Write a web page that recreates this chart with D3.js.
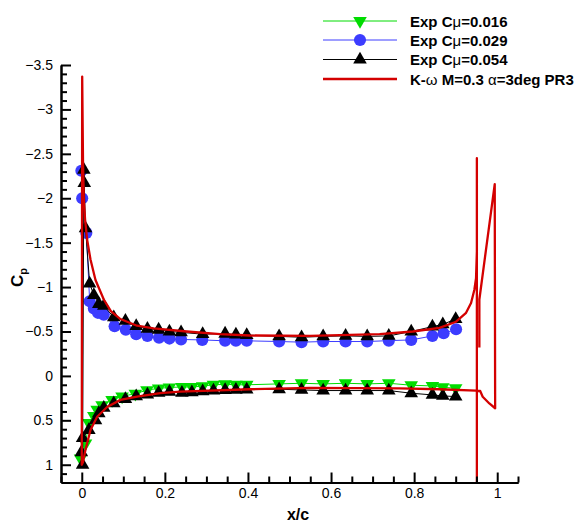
<!DOCTYPE html>
<html>
<head>
<meta charset="utf-8">
<script src="https://cdn.jsdelivr.net/npm/d3@7"></script>
<style>
  body { margin: 0; background: #fff; }
  text { font-family: "Liberation Sans", Arial, sans-serif; }
</style>
</head>
<body>
<div id="wrapper"></div>
<script>
// CFD curve K-omega, ordered along the surface
const cfdX = [0.951, 0.951, 0.951, 0.949, 0.945, 0.937, 0.925, 0.901, 0.861, 0.797, 0.717, 0.549, 0.405, 0.333, 0.253, 0.173, 0.133, 0.093, 0.070, 0.053, 0.033, 0.021, 0.013, 0.008, 0.005, 0.003, 0.001,
    0.000, 0.003, 0.009, 0.021, 0.037, 0.061, 0.093, 0.133, 0.189, 0.237, 0.405, 0.55, 0.765, 0.861, 0.949, 0.959, 0.965, 0.981, 0.995, 0.994, 0.957, 0.957]
const cfdCp = [1.35, -2.45, -1.4, -1.1, -0.97, -0.82, -0.71, -0.61, -0.54, -0.5, -0.47, -0.45, -0.455, -0.47, -0.5, -0.535, -0.565, -0.64, -0.73, -0.86, -1.08, -1.31, -1.53, -1.76, -1.98, -2.4, -3.37,
    1.0, 0.97, 0.83, 0.61, 0.46, 0.35, 0.27, 0.233, 0.195, 0.177, 0.15, 0.135, 0.14, 0.15, 0.165, 0.17, 0.234, 0.31, 0.364, -2.16, -0.86, -0.32]

// Exp Cmu=0.016 (lower surface)
const exp016X = [-0.003, 0.009, 0.017, 0.029, 0.037, 0.049, 0.073, 0.097, 0.129, 0.157, 0.185, 0.211, 0.241, 0.265, 0.291, 0.317, 0.345, 0.371, 0.397, 0.475, 0.529, 0.581, 0.635, 0.687, 0.739, 0.793, 0.844, 0.869, 0.9]
const exp016Cp = [0.93, 0.76, 0.53, 0.45, 0.38, 0.33, 0.27, 0.23, 0.2, 0.16, 0.14, 0.13, 0.125, 0.125, 0.115, 0.1, 0.094, 0.1, 0.1, 0.09, 0.083, 0.09, 0.083, 0.09, 0.083, 0.105, 0.113, 0.128, 0.139]

// Exp Cmu=0.029 (upper surface)
const exp029X = [-0.001, 0.001, 0.011, 0.019, 0.029, 0.039, 0.053, 0.079, 0.106, 0.131, 0.158, 0.186, 0.211, 0.239, 0.29, 0.345, 0.371, 0.397, 0.475, 0.529, 0.581, 0.635, 0.687, 0.739, 0.793, 0.844, 0.871, 0.901]
const exp029Cp = [-2.31, -2.0, -1.61, -0.84, -0.76, -0.71, -0.69, -0.56, -0.52, -0.47, -0.45, -0.43, -0.42, -0.41, -0.405, -0.395, -0.395, -0.395, -0.387, -0.38, -0.387, -0.387, -0.387, -0.397, -0.405, -0.45, -0.48, -0.525]

// Exp Cmu=0.054 (lower surface from TE to LE, then upper surface)
const exp054X = [0.9, 0.869, 0.844, 0.793, 0.739, 0.687, 0.635, 0.581, 0.529, 0.475, 0.397, 0.371, 0.345, 0.317, 0.291, 0.265, 0.241, 0.211, 0.185, 0.158, 0.131, 0.105, 0.077, 0.053, 0.041, 0.033, 0.017, 0.002, -0.001, 0.002,
    0.005, 0.006, 0.009, 0.019, 0.029, 0.041, 0.053, 0.077, 0.105, 0.131, 0.158, 0.185, 0.211, 0.239, 0.291, 0.345, 0.371, 0.397, 0.475, 0.529, 0.581, 0.635, 0.687, 0.739, 0.793, 0.844, 0.869, 0.9]
const exp054Cp = [0.233, 0.225, 0.214, 0.195, 0.165, 0.165, 0.165, 0.165, 0.158, 0.15, 0.155, 0.158, 0.16, 0.165, 0.175, 0.185, 0.19, 0.18, 0.19, 0.21, 0.23, 0.26, 0.31, 0.36, 0.42, 0.5, 0.61, 0.7, 0.86, 1.0,
    -2.32, -2.17, -1.66, -1.04, -0.91, -0.81, -0.79, -0.66, -0.62, -0.56, -0.53, -0.52, -0.5, -0.49, -0.47, -0.475, -0.465, -0.46, -0.445, -0.435, -0.445, -0.45, -0.445, -0.45, -0.5, -0.555, -0.58, -0.64]

const xTicks = [0, 0.2, 0.4, 0.6, 0.8, 1]
const yTicks = [-3.5, -3, -2.5, -2, -1.5, -1, -0.5, 0, 0.5, 1]

const legendLabels = ["Exp C", "Exp C", "Exp C", "K-"]

const width = 588
const height = 525
let dimensions = {
    width: width,
    height: height,
    left: 61,
    right: 518,
    top: 65,
    bottom: 482.5,
}

const svg = d3.select("#wrapper")
    .append("svg")
    .attr("width", dimensions.width)
    .attr("height", dimensions.height);

const xScaler = d3.scaleLinear()
    .domain([-0.05, 1.05])
    .range([dimensions.left, dimensions.right]);

const yScaler = d3.scaleLinear()
    .domain([-3.5, 1.2])
    .range([dimensions.top, dimensions.bottom]);

svg.append("clipPath").attr("id", "plotClip")
    .append("rect")
    .attr("x", dimensions.left)
    .attr("y", 0)
    .attr("width", dimensions.right - dimensions.left)
    .attr("height", dimensions.bottom - 0);

const zip = (xs, ys) => xs.map((x, i) => [x, ys[i]]);

const lineGen = d3.line()
    .x(d => xScaler(d[0]))
    .y(d => yScaler(d[1]));

const plot = svg.append("g").attr("clip-path", "url(#plotClip)");

const green = "#00dc00"
const blue = "#3c3cff"
const red = "#d40000"

const triUp = d3.symbol(d3.symbolTriangle, 80)()
const circ = d3.symbol(d3.symbolCircle, 115)()

// series
const series = [
    {pts: zip(exp016X, exp016Cp), color: green, sym: triUp, rot: 180},
    {pts: zip(exp029X, exp029Cp), color: blue, sym: circ, rot: 0},
    {pts: zip(exp054X, exp054Cp), color: "black", sym: triUp, rot: 0},
]

series.forEach(s => {
    plot.append("path")
        .attr("d", lineGen(s.pts))
        .attr("fill", "none")
        .attr("stroke", s.color)
        .attr("stroke-width", 1);
    plot.append("g").selectAll("path")
        .data(s.pts)
        .enter()
        .append("path")
        .attr("d", s.sym)
        .attr("transform", d => `translate(${xScaler(d[0])},${yScaler(d[1])}) rotate(${s.rot})`)
        .attr("fill", s.color);
})

plot.append("path")
    .attr("d", lineGen(zip(cfdX, cfdCp)))
    .attr("fill", "none")
    .attr("stroke", red)
    .attr("stroke-width", 2.3)
    .attr("stroke-linejoin", "round");

// axes
const xAxisGen = d3.axisBottom(xScaler)
    .tickValues(xTicks)
    .tickSize(-10)
    .tickSizeOuter(0)
    .tickPadding(6)
    .tickFormat(d3.format("~g"));
svg.append("g")
    .attr("transform", `translate(0,${dimensions.bottom})`)
    .call(xAxisGen);

const xMinor = d3.axisBottom(xScaler)
    .tickValues(d3.range(-0.05, 1.06, 0.05).filter(v => Math.abs(v * 5 - Math.round(v * 5)) > 1e-6))
    .tickSize(-6)
    .tickSizeOuter(0)
    .tickFormat("");
svg.append("g")
    .attr("transform", `translate(0,${dimensions.bottom})`)
    .call(xMinor);

const yAxisGen = d3.axisLeft(yScaler)
    .tickValues(yTicks)
    .tickSize(-10)
    .tickSizeOuter(0)
    .tickPadding(8)
    .tickFormat(d3.format("~g"));
svg.append("g")
    .attr("transform", `translate(${dimensions.left},0)`)
    .call(yAxisGen);

const yMinor = d3.axisLeft(yScaler)
    .tickValues(d3.range(-34, 12, 1).map(v => v / 10).filter(v => Math.abs(v * 2 - Math.round(v * 2)) > 1e-6))
    .tickSize(-6)
    .tickSizeOuter(0)
    .tickFormat("");
svg.append("g")
    .attr("transform", `translate(${dimensions.left},0)`)
    .call(yMinor);

svg.selectAll(".domain").attr("stroke", "black").attr("stroke-width", 2);
svg.selectAll(".tick line").attr("stroke", "black").attr("stroke-width", 2);
svg.selectAll(".tick text")
    .attr("font-size", "14px")
    .attr("font-family", "'Liberation Sans', Arial, sans-serif")
    .attr("fill", "black");

// axis labels
svg.append("text")
    .attr("x", 298)
    .attr("y", 520)
    .attr("text-anchor", "middle")
    .attr("font-size", "16px")
    .attr("font-weight", "bold")
    .text("x/c");

const yLabel = svg.append("text")
    .attr("transform", "translate(23,287) rotate(-90)")
    .attr("font-size", "17px")
    .attr("font-weight", "bold");
yLabel.append("tspan").text("C");
yLabel.append("tspan").attr("font-size", "11px").attr("dy", 4).text("p");

// legend
const legendRows = [
    {label: legendLabels[0], greek: "\u03bc", rest: "=0.016", color: green, sym: triUp, rot: 180, w: 1},
    {label: legendLabels[1], greek: "\u03bc", rest: "=0.029", color: blue, sym: circ, rot: 0, w: 1},
    {label: legendLabels[2], greek: "\u03bc", rest: "=0.054", color: "black", sym: triUp, rot: 0, w: 1},
    {label: legendLabels[3], greek: "\u03c9", rest: " M=0.3 ", color: red, sym: null, rot: 0, w: 2.5},
]
const legendY = [21, 40, 59.5, 79]

legendRows.forEach((r, i) => {
    const g = svg.append("g").attr("transform", `translate(0,${legendY[i]})`);
    g.append("line")
        .attr("x1", 323).attr("x2", 397)
        .attr("y1", 0).attr("y2", 0)
        .attr("stroke", r.color)
        .attr("stroke-width", r.w);
    if (r.sym) {
        g.append("path")
            .attr("d", r.sym)
            .attr("transform", `translate(360,0) rotate(${r.rot})`)
            .attr("fill", r.color);
    }
    const t = g.append("text")
        .attr("x", 410)
        .attr("y", 5.5)
        .attr("font-size", "15px")
        .attr("font-weight", "bold");
    t.append("tspan").text(r.label);
    t.append("tspan").attr("font-weight", "normal").text(r.greek);
    t.append("tspan").text(r.rest);
    if (i == 3) {
        t.append("tspan").attr("font-weight", "normal").text("\u03b1");
        t.append("tspan").text("=3deg PR3");
    }
})
</script>
</body>
</html>
